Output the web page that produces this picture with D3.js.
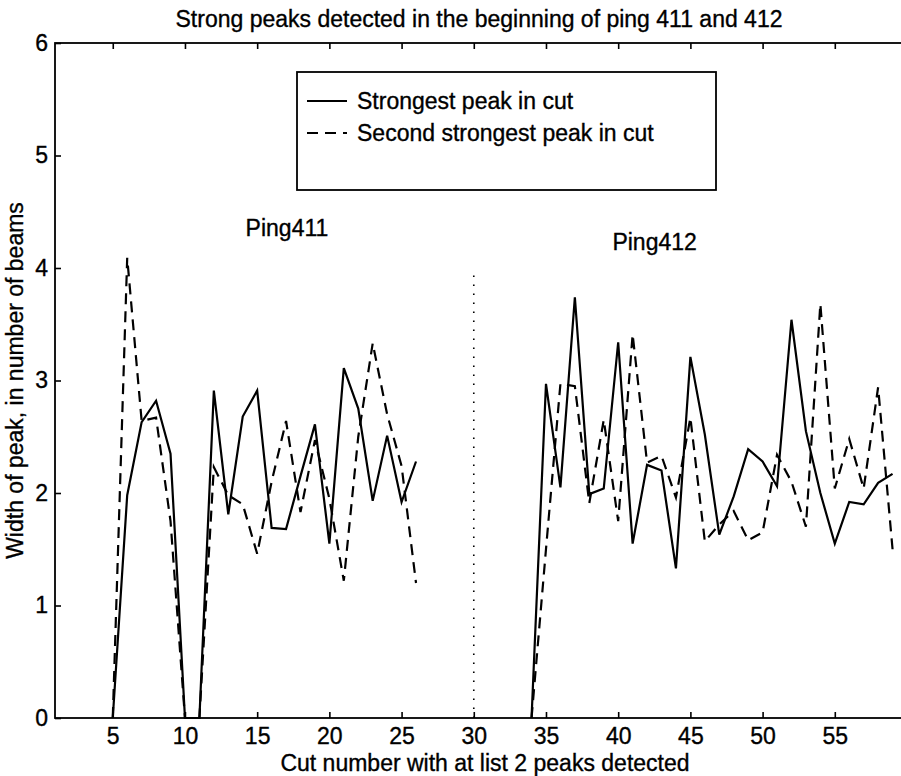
<!DOCTYPE html>
<html>
<head>
<meta charset="utf-8">
<script src="https://cdn.jsdelivr.net/npm/d3@7"></script>
<style>
  body { margin: 0; background: #fff; }
  svg { display: block; }
  text { font-family: "Liberation Sans", Arial, Helvetica, sans-serif; fill: #000; stroke: #000; stroke-width: 0.35px; }
</style>
</head>
<body>
<svg id="chart" width="901" height="776"></svg>
<script>
// Cut numbers for each ping
const cuts411 = [5, 6, 7, 8, 9, 10, 11, 12, 13, 14, 15, 16, 17, 18, 19, 20, 21, 22, 23, 24, 25, 26];
const cuts412 = [34, 35, 36, 37, 38, 39, 40, 41, 42, 43, 44, 45, 46, 47, 48, 49, 50, 51, 52, 53, 54, 55, 56, 57, 58, 59];

// Peak widths (number of beams)
const strongest411 = [0, 1.98, 2.63, 2.82, 2.35, 0, 0, 2.91, 1.81, 2.68, 2.91, 1.69, 1.68, 2.15, 2.61, 1.55, 3.11, 2.75, 1.93, 2.51, 1.92, 2.28];
const second411    = [0, 4.09, 2.64, 2.67, 1.75, 0, 0, 2.23, 1.98, 1.90, 1.46, 2.10, 2.64, 1.83, 2.47, 1.95, 1.22, 2.50, 3.33, 2.70, 2.24, 1.20];
const strongest412 = [0, 2.97, 2.05, 3.74, 1.99, 2.04, 3.34, 1.55, 2.25, 2.20, 1.33, 3.21, 2.52, 1.63, 1.97, 2.39, 2.28, 2.06, 3.54, 2.55, 2.00, 1.55, 1.92, 1.90, 2.09, 2.17];
const second412    = [0, 1.50, 2.97, 2.95, 1.91, 2.65, 1.75, 3.41, 2.27, 2.33, 1.96, 2.67, 1.57, 1.72, 1.84, 1.58, 1.65, 2.34, 2.10, 1.70, 3.68, 2.04, 2.48, 2.04, 2.94, 1.50];

// Separator between the two pings
const separatorX = [30, 30];
const separatorY = [0, 4];

// Axis ticks
const xTicks = [5, 10, 15, 20, 25, 30, 35, 40, 45, 50, 55];
const yTicks = [0, 1, 2, 3, 4, 5, 6];

const legendLabels = ["Strongest peak in cut", "Second strongest peak in cut"];
const titleText = "Strong peaks detected in the beginning of ping 411 and 412";
const xLabel = "Cut number with at list 2 peaks detected";
const yLabel = "Width of peak, in number of beams";

const svg = d3.select("#chart");
const FS = 23;

const x = d3.scaleLinear().domain([1, 60]).range([55, 907]);
const y = d3.scaleLinear().domain([0, 6]).range([718, 43]);
const fmt = d3.format("d");

// Axes: ticks point inward on all four sides
const gx = svg.append("g").attr("transform", `translate(0,${y(0)})`)
  .call(d3.axisBottom(x).tickValues(xTicks).tickFormat(fmt).tickSizeInner(-6).tickSizeOuter(0).tickPadding(10));
const gxTop = svg.append("g").attr("transform", `translate(0,${y(6)})`)
  .call(d3.axisTop(x).tickValues(xTicks).tickSizeInner(-6).tickSizeOuter(0).tickFormat(""));
const gy = svg.append("g").attr("transform", `translate(${x(1)},0)`)
  .call(d3.axisLeft(y).tickValues(yTicks).tickFormat(fmt).tickSizeInner(-6).tickSizeOuter(0).tickPadding(7));
const gyRight = svg.append("g").attr("transform", `translate(${x(60)},0)`)
  .call(d3.axisRight(y).tickValues(yTicks).tickSizeInner(-6).tickSizeOuter(0).tickFormat(""));

[gx, gxTop, gy, gyRight].forEach(g => {
  g.attr("font-size", FS).attr("font-family", null);
  g.select(".domain").remove();
  g.selectAll(".tick line").attr("stroke", "#000").attr("stroke-width", 1.6);
  g.selectAll(".tick text").attr("font-size", FS).attr("fill", "#000");
});

// Axes frame
svg.append("rect")
  .attr("x", x(1)).attr("y", y(6))
  .attr("width", x(60) - x(1)).attr("height", y(0) - y(6))
  .attr("fill", "none").attr("stroke", "#000").attr("stroke-width", 1.8);

// Data lines
const line = d3.line().x(d => x(d[0])).y(d => y(d[1]));
const series = [
  { xs: cuts411, ys: strongest411, dash: null },
  { xs: cuts411, ys: second411, dash: "11,7" },
  { xs: cuts412, ys: strongest412, dash: null },
  { xs: cuts412, ys: second412, dash: "11,7" }
];
series.forEach(s => {
  svg.append("path")
    .datum(d3.zip(s.xs, s.ys))
    .attr("d", line)
    .attr("fill", "none")
    .attr("stroke", "#000")
    .attr("stroke-width", 2.2)
    .attr("stroke-linejoin", "miter")
    .attr("stroke-dasharray", s.dash);
});

// Dotted separator
svg.append("path")
  .datum(d3.zip(separatorX, separatorY))
  .attr("d", line)
  .attr("fill", "none")
  .attr("stroke", "#000")
  .attr("stroke-width", 1.6)
  .attr("stroke-dasharray", "1.6,7.4");

// Ping annotations
svg.append("text").attr("x", x(14.2)).attr("y", y(4.36)).attr("dy", "0.35em")
  .attr("font-size", FS).text("Ping411");
svg.append("text").attr("x", x(39.6)).attr("y", y(4.23)).attr("dy", "0.35em")
  .attr("font-size", FS).text("Ping412");

// Legend
const legend = svg.append("g");
legend.append("rect")
  .attr("x", 297).attr("y", 72).attr("width", 419).attr("height", 118)
  .attr("fill", "#fff").attr("stroke", "#000").attr("stroke-width", 1.8);
legendLabels.forEach((lab, i) => {
  const cy = 101 + i * 32;
  legend.append("line")
    .attr("x1", 307).attr("x2", 347).attr("y1", cy).attr("y2", cy)
    .attr("stroke", "#000").attr("stroke-width", 2.2)
    .attr("stroke-dasharray", i === 1 ? "11,7" : null);
  legend.append("text")
    .attr("x", 357).attr("y", cy).attr("dy", "0.35em")
    .attr("font-size", FS).text(lab);
});

// Titles
svg.append("text").attr("x", 479).attr("y", 27).attr("text-anchor", "middle")
  .attr("font-size", FS).text(titleText);
svg.append("text").attr("x", 485).attr("y", 770.5).attr("text-anchor", "middle")
  .attr("font-size", FS).text(xLabel);
svg.append("text")
  .attr("transform", `translate(23,${(y(0) + y(6)) / 2}) rotate(-90)`)
  .attr("text-anchor", "middle")
  .attr("font-size", FS).text(yLabel);
</script>
</body>
</html>
